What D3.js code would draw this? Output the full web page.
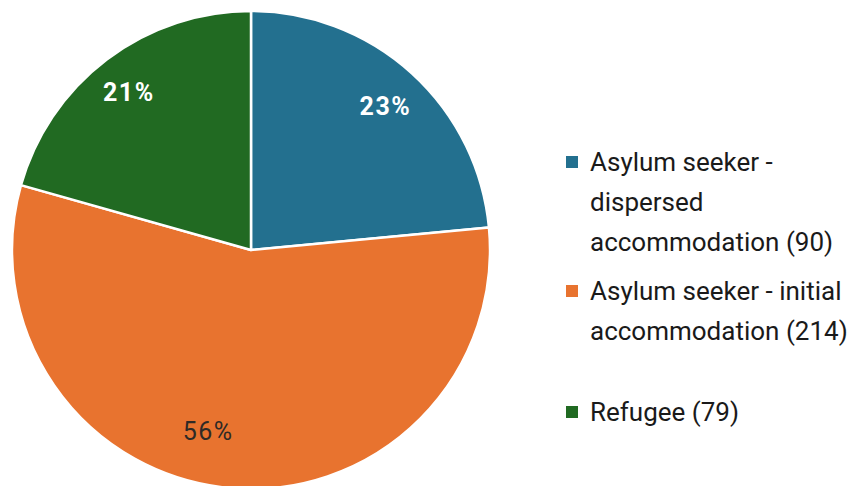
<!DOCTYPE html>
<html>
<head>
<meta charset="utf-8">
<script src="https://cdn.jsdelivr.net/npm/d3@7"></script>
<style>
  html, body { margin: 0; padding: 0; background: #ffffff; }
  svg { display: block; }
</style>
</head>
<body>
<svg id="chart" width="866" height="486"></svg>
<script>
// Accommodation type breakdown
const categories = [
  "Asylum seeker - dispersed accommodation",
  "Asylum seeker - initial accommodation",
  "Refugee"
];
const counts = [90, 214, 79];
const legendLines = [
  ["Asylum seeker -", "dispersed", "accommodation (90)"],
  ["Asylum seeker - initial", "accommodation (214)"],
  ["Refugee (79)"]
];
const colors = ["#23708f", "#e8732f", "#216a22"];
const labelColors = ["#ffffff", "#2f2a26", "#ffffff"];
const labelWeights = ["bold", "normal", "bold"];

const svg = d3.select("#chart");
const cx = 251, cy = 250, R = 239;

const data = categories.map((c, i) => ({ name: c, value: counts[i], i }));
const total = d3.sum(counts);

const pie = d3.pie().value(d => d.value).sort(null);
const arcs = pie(data);
const arc = d3.arc().innerRadius(0).outerRadius(R);

const g = svg.append("g").attr("transform", `translate(${cx},${cy})`);

g.selectAll("path.slice")
  .data(arcs)
  .join("path")
  .attr("class", "slice")
  .attr("d", arc)
  .attr("fill", d => colors[d.data.i])
  .attr("stroke", "#ffffff")
  .attr("stroke-width", 2.5)
  .attr("stroke-linejoin", "round");

// label placement: radius factor and angle shift (radians) per slice
const labelRadius = [0.823, 0.777, 0.837];
const labelAngleShift = [0.014, 0.143, -0.009];
g.selectAll("text.pct")
  .data(arcs)
  .join("text")
  .attr("class", "pct")
  .attr("transform", d => {
    const a = (d.startAngle + d.endAngle) / 2 + labelAngleShift[d.data.i];
    const r = R * labelRadius[d.data.i];
    return `translate(${r * Math.sin(a)},${-r * Math.cos(a)})`;
  })
  .attr("text-anchor", "middle")
  .attr("dy", "0.36em")
  .attr("fill", d => labelColors[d.data.i])
  .attr("font-weight", d => labelWeights[d.data.i])
  .attr("font-family", "Roboto, 'Liberation Sans', Arial, sans-serif")
  .attr("font-size", 25)
  .attr("letter-spacing", 1.5)
  .text(d => Math.round(d.value / total * 100) + "%");

// legend
const legendX = 566, lineH = 40, box = 12;
const entryTop = [162, 291, 412];
const leg = svg.append("g");
legendLines.forEach((lines, i) => {
  leg.append("rect")
    .attr("x", legendX)
    .attr("y", entryTop[i] - box / 2)
    .attr("width", box)
    .attr("height", box)
    .attr("fill", colors[i]);
  const t = leg.append("text")
    .attr("font-family", "Roboto, 'Liberation Sans', Arial, sans-serif")
    .attr("font-size", 26)
    .attr("fill", "#1a1a1a");
  lines.forEach((ln, k) => {
    t.append("tspan")
      .attr("x", legendX + 24)
      .attr("y", entryTop[i] + k * lineH)
      .attr("dy", "0.35em")
      .text(ln);
  });
});
</script>
</body>
</html>
